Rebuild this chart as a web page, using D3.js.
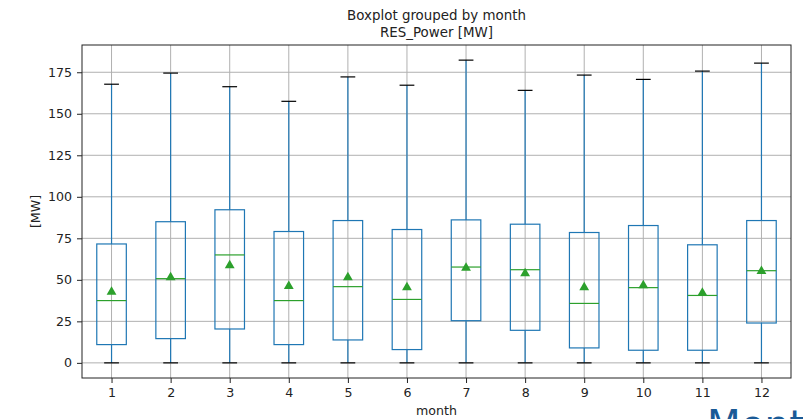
<!DOCTYPE html>
<html>
<head>
<meta charset="utf-8">
<script src="https://cdn.jsdelivr.net/npm/d3@7"></script>
<style>
  body { margin: 0; background: #fff; overflow: hidden; }
  svg { font-family: "DejaVu Sans", sans-serif; display: block; }
</style>
</head>
<body>
<svg id="chart" width="803" height="419"></svg>
<script>
// boxplot stats per month
var months = [1, 2, 3, 4, 5, 6, 7, 8, 9, 10, 11, 12];
var whiskLow = [0, 0, 0, 0, 0, 0, 0, 0, 0, 0, 0, 0];
var q1 = [11.0, 14.6, 20.4, 11.0, 13.8, 8.0, 25.4, 19.6, 9.0, 7.6, 7.6, 24.0];
var median = [37.5, 50.7, 65.0, 37.5, 45.9, 38.2, 57.7, 56.1, 35.8, 45.3, 40.6, 55.5];
var q3 = [71.6, 85.0, 92.2, 79.1, 85.7, 80.3, 86.1, 83.5, 78.5, 82.7, 71.1, 85.7];
var whiskHigh = [167.8, 174.5, 166.3, 157.5, 172.2, 167.2, 182.3, 164.1, 173.3, 170.7, 175.7, 180.5];
var mean = [43.0, 51.7, 59.0, 46.5, 51.7, 45.7, 57.5, 54.1, 45.7, 46.9, 42.4, 55.5];
var yTicks = [0, 25, 50, 75, 100, 125, 150, 175];

var margin = {top: 45, right: 12, bottom: 41, left: 82};
var svg = d3.select("#chart");
var width = 803 - margin.left - margin.right;
var height = 419 - margin.top - margin.bottom;

var boxes = months.map(function (m, i) {
    return {month: m, lo: whiskLow[i], q1: q1[i], med: median[i], q3: q3[i], hi: whiskHigh[i], mean: mean[i]};
});

var ymax = d3.max(whiskHigh), ymin = d3.min(whiskLow);
var pad = (ymax - ymin) * 0.05;

var x = d3.scaleLinear().domain([0.5, 12.5]).range([0, width]);
var y = d3.scaleLinear().domain([ymin - pad, ymax + pad]).range([height, 0]);

var g = svg.append("g").attr("transform", "translate(" + margin.left + "," + margin.top + ")");

// grid
g.selectAll(".hgrid").data(yTicks).enter().append("line")
    .attr("x1", 0).attr("x2", width)
    .attr("y1", function (d) { return y(d); }).attr("y2", function (d) { return y(d); })
    .attr("stroke", "#b0b0b0").attr("stroke-width", 1);
g.selectAll(".vgrid").data(months).enter().append("line")
    .attr("y1", 0).attr("y2", height)
    .attr("x1", function (d) { return x(d); }).attr("x2", function (d) { return x(d); })
    .attr("stroke", "#b0b0b0").attr("stroke-width", 1);

var boxW = x(1.25) - x(1);
var capW = x(1.125) - x(1);

var b = g.selectAll(".box").data(boxes).enter().append("g");

// whiskers
b.append("line")
    .attr("x1", function (d) { return x(d.month); }).attr("x2", function (d) { return x(d.month); })
    .attr("y1", function (d) { return y(d.q3); }).attr("y2", function (d) { return y(d.hi); })
    .attr("stroke", "#1f77b4").attr("stroke-width", 1.2);
b.append("line")
    .attr("x1", function (d) { return x(d.month); }).attr("x2", function (d) { return x(d.month); })
    .attr("y1", function (d) { return y(d.q1); }).attr("y2", function (d) { return y(d.lo); })
    .attr("stroke", "#1f77b4").attr("stroke-width", 1.2);

// caps
b.append("line")
    .attr("x1", function (d) { return x(d.month) - capW; }).attr("x2", function (d) { return x(d.month) + capW; })
    .attr("y1", function (d) { return y(d.hi); }).attr("y2", function (d) { return y(d.hi); })
    .attr("stroke", "#000").attr("stroke-width", 1.2);
b.append("line")
    .attr("x1", function (d) { return x(d.month) - capW; }).attr("x2", function (d) { return x(d.month) + capW; })
    .attr("y1", function (d) { return y(d.lo); }).attr("y2", function (d) { return y(d.lo); })
    .attr("stroke", "#000").attr("stroke-width", 1.2);

// box
b.append("rect")
    .attr("x", function (d) { return x(d.month) - boxW; })
    .attr("width", boxW * 2)
    .attr("y", function (d) { return y(d.q3); })
    .attr("height", function (d) { return y(d.q1) - y(d.q3); })
    .attr("fill", "none").attr("stroke", "#1f77b4").attr("stroke-width", 1.2);

// median
b.append("line")
    .attr("x1", function (d) { return x(d.month) - boxW; }).attr("x2", function (d) { return x(d.month) + boxW; })
    .attr("y1", function (d) { return y(d.med); }).attr("y2", function (d) { return y(d.med); })
    .attr("stroke", "#2ca02c").attr("stroke-width", 1.2);

// mean
b.append("path")
    .attr("d", d3.symbol().type(d3.symbolTriangle).size(42))
    .attr("transform", function (d) { return "translate(" + x(d.month) + "," + (y(d.mean) + 0.5) + ")"; })
    .attr("fill", "#2ca02c");

// axes
var xAxis = g.append("g").attr("transform", "translate(0," + height + ")")
    .call(d3.axisBottom(x).tickValues(months).tickSize(5).tickPadding(5).tickFormat(d3.format("d")));
var yAxis = g.append("g")
    .call(d3.axisLeft(y).tickValues(yTicks).tickSize(5).tickPadding(5).tickFormat(d3.format("d")));
[xAxis, yAxis].forEach(function (a) {
    a.select(".domain").remove();
    a.selectAll("text").attr("font-size", 12.6).attr("fill", "#222").attr("font-family", "DejaVu Sans");
    a.selectAll("line").attr("stroke", "#222");
});

// frame
g.append("rect").attr("width", width).attr("height", height)
    .attr("fill", "none").attr("stroke", "#222").attr("stroke-width", 1);

// titles
svg.append("text").attr("x", margin.left + width / 2).attr("y", 20)
    .attr("text-anchor", "middle").attr("font-size", 13.4).attr("fill", "#222")
    .text("Boxplot grouped by month");
svg.append("text").attr("x", margin.left + width / 2).attr("y", 37)
    .attr("text-anchor", "middle").attr("font-size", 13.4).attr("fill", "#222")
    .text("RES_Power [MW]");
svg.append("text").attr("x", margin.left + width / 2).attr("y", 415)
    .attr("text-anchor", "middle").attr("font-size", 12.6).attr("fill", "#222")
    .text("month");
svg.append("text")
    .attr("transform", "translate(40," + (margin.top + height / 2) + ") rotate(-90)")
    .attr("text-anchor", "middle").attr("font-size", 12.6).attr("fill", "#222")
    .text("[MW]");

// clipped heading below the chart
svg.append("text").attr("x", 707).attr("y", 438)
    .attr("font-size", 39).attr("fill", "#1a5a96").attr("font-family", "DejaVu Sans")
    .text("Month");
</script>
</body>
</html>
